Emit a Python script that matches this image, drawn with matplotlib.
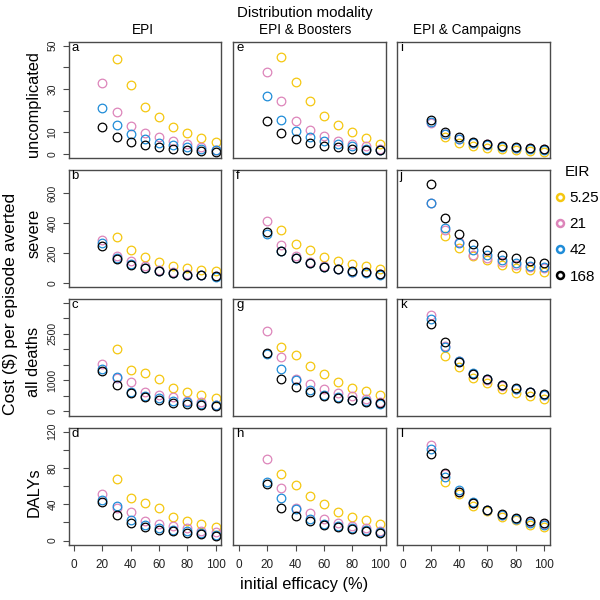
import numpy as np
import matplotlib
matplotlib.use("Agg")
import matplotlib.pyplot as plt
from matplotlib.lines import Line2D

plt.rcParams['font.family'] = ['Liberation Sans', 'DejaVu Sans']

nan = np.nan

efficacy = [20, 30, 40, 50, 60, 70, 80, 90, 100]
eir_labels = ['5.25', '21', '42', '168']
eir_colors = ['#F5C710', '#DD85BA', '#1F8CD8', '#000000']
modalities = ['EPI', 'EPI & Boosters', 'EPI & Campaigns']
outcomes = ['uncomplicated', 'severe', 'all deaths', 'DALYs']
letters = [['a', 'e', 'i'], ['b', 'f', 'j'], ['c', 'g', 'k'], ['d', 'h', 'l']]

# cost per episode averted, one row per EIR (5.25, 21, 42, 168)
unc_epi = [[nan, 43.8, 31.8, 21.6, 17.0, 12.5, 9.6, 7.4, 5.6],
           [32.7, 19.6, 13.1, 9.7, 7.7, 6.0, 4.5, 3.5, 2.0],
           [21.5, 13.4, 9.3, 7.1, 5.3, 4.2, 3.1, 2.3, 1.7],
           [12.7, 7.9, 5.4, 4.2, 3.1, 2.5, 1.9, 1.6, 1.2]]
unc_boost = [[nan, 44.6, 33.3, 24.7, 17.6, 13.4, 10.2, 7.4, 4.8],
             [37.7, 24.3, 15.1, 11.1, 8.5, 6.3, 4.8, 3.7, 2.2],
             [26.6, 15.7, 10.8, 8.1, 6.2, 4.5, 3.9, 2.6, 2.0],
             [15.5, 9.6, 6.8, 5.3, 4.0, 3.1, 2.5, 2.0, 1.7]]
unc_camp = [[nan, 7.7, 5.3, 3.9, 3.0, 2.3, 1.7, 1.6, 1.1],
            [14.3, 9.5, 7.1, 5.3, 4.5, 3.6, 3.0, 2.8, 2.3],
            [15.0, 9.3, 6.9, 5.1, 4.2, 3.4, 2.8, 2.5, 2.0],
            [15.7, 10.4, 7.7, 5.7, 4.6, 3.9, 3.2, 3.0, 2.5]]

sev_epi = [[nan, 309, 220, 171, 142, 113, 102, 87, 77],
           [289, 177, 149, 111, 87, 71, 60, 53, 47],
           [267, 169, 124, 102, 80, 67, 55, 49, 40],
           [247, 162, 120, 97, 80, 67, 55, 49, 42]]
sev_boost = [[nan, 351, 257, 217, 175, 147, 124, 111, 95],
             [411, 253, 180, 140, 111, 91, 75, 69, 57],
             [324, 213, 164, 129, 107, 93, 75, 67, 55],
             [342, 213, 164, 131, 107, 95, 77, 69, 60]]
sev_camp = [[nan, 313, 233, 177, 151, 120, 102, 87, 75],
            [537, 355, 275, 189, 167, 137, 120, 107, 97],
            [537, 367, 269, 222, 184, 155, 133, 115, 107],
            [660, 431, 329, 257, 222, 189, 164, 149, 131]]

death_epi = [[nan, 2005, 1340, 1221, 1051, 761, 611, 537, 431],
             [1523, 1073, 932, 623, 537, 463, 344, 302, 215],
             [1372, 1115, 623, 504, 431, 344, 289, 247, 206],
             [1285, 848, 578, 450, 353, 280, 225, 206, 183]]
death_boost = [[nan, 2056, 1799, 1468, 1189, 944, 752, 643, 537],
               [2603, 1735, 1051, 890, 707, 601, 504, 408, 302],
               [1854, 1372, 996, 697, 537, 450, 376, 321, 247],
               [1864, 1051, 794, 623, 504, 418, 353, 311, 257]]
death_camp = [[nan, 1767, 1414, 1060, 900, 707, 591, 504, 408],
              [3107, 2111, 1607, 1201, 1008, 826, 707, 611, 515],
              [2978, 2069, 1629, 1233, 1028, 836, 718, 623, 537],
              [2816, 2230, 1575, 1211, 1028, 848, 740, 633, 569]]

daly_epi = [[nan, 67.3, 46.4, 41.1, 35.6, 25.8, 21.1, 18.4, 14.7],
            [51.6, 36.0, 31.3, 21.5, 18.2, 16.4, 13.5, 10.5, 9.5],
            [44.7, 38.2, 22.2, 17.5, 14.2, 12.0, 10.2, 8.4, 6.2],
            [42.2, 28.4, 19.6, 14.9, 12.0, 10.2, 8.4, 7.3, 5.5]]
daly_boost = [[nan, 73.1, 60.8, 49.1, 40.7, 32.0, 25.5, 22.9, 17.8],
              [90.2, 58.2, 35.6, 29.8, 24.0, 19.3, 16.4, 13.9, 10.2],
              [64.7, 46.6, 34.9, 24.0, 18.2, 15.6, 13.8, 11.2, 9.5],
              [61.8, 35.6, 26.9, 21.1, 17.5, 14.5, 12.4, 10.6, 8.7]]
daly_camp = [[nan, 64.7, 50.9, 38.5, 32.7, 26.2, 22.1, 17.5, 15.0],
             [105.8, 72.8, 53.1, 41.1, 33.8, 28.5, 24.0, 20.0, 17.8],
             [101.1, 70.2, 56.0, 42.9, 33.8, 28.0, 23.6, 19.6, 17.5],
             [95.7, 74.5, 53.8, 41.5, 33.8, 29.1, 24.7, 21.1, 18.9]]

panels = [[unc_epi, unc_boost, unc_camp],
          [sev_epi, sev_boost, sev_camp],
          [death_epi, death_boost, death_camp],
          [daly_epi, daly_boost, daly_camp]]

# axis setup per row
ylims = [(-1.85, 51.85), (-25, 755), (-138, 3620), (-4.7, 123.7)]
yticks = [[0, 10, 20, 30, 40, 50],
          [0, 200, 400, 600],
          [0, 500, 1000, 1500, 2000, 2500, 3000, 3500],
          [0, 20, 40, 60, 80, 100, 120]]
yticklabels = [['0', '10', '', '30', '', '50'],
               ['0', '200', '400', '600'],
               ['0', '', '1000', '', '', '2500', '', ''],
               ['0', '', '40', '', '80', '', '120']]
xticks = [0, 20, 40, 60, 80, 100]

W = H = 600.0
col_left = [68.5, 233.3, 397.0]
row_top = [41.7, 170.0, 299.0, 428.3]
pw, ph = 152.7, 116.5

frame_col = '#4a4a4a'

fig = plt.figure(figsize=(6, 6), dpi=100)

for r in range(4):
    for c in range(3):
        ax = fig.add_axes([col_left[c] / W, 1 - (row_top[r] + ph) / H, pw / W, ph / H])
        series = panels[r][c]
        for k in range(4):
            ax.plot(efficacy, series[k], linestyle='none', marker='o',
                    markersize=6.2, markerfacecolor='none',
                    markeredgecolor=eir_colors[k], markeredgewidth=0.9)
        ax.set_xlim(-4, 104)
        ax.set_ylim(*ylims[r])
        for s in ax.spines.values():
            s.set_color(frame_col)
            s.set_linewidth(1.0)
        ax.tick_params(colors=frame_col, length=4.5, width=0.8, labelcolor='#222222')
        ax.set_xticks(xticks)
        if r == 3:
            ax.set_xticklabels([str(v) for v in xticks], fontsize=8.5)
            ax.tick_params(axis='x', pad=6)
        else:
            ax.tick_params(axis='x', bottom=False, labelbottom=False)
        ax.set_yticks(yticks[r])
        if c == 0:
            ax.set_yticklabels(yticklabels[r], fontsize=7.5, rotation=90, va='center')
            ax.tick_params(axis='y', pad=3.5)
        else:
            ax.tick_params(axis='y', left=False, labelleft=False)
        ax.text(0.018, 1 - 9.0 / ph, letters[r][c], transform=ax.transAxes,
                ha='left', va='baseline', fontsize=9.5)

# column titles
fig.text(305 / W, 1 - 17.5 / H, 'Distribution modality', ha='center', va='baseline', fontsize=10.8)
title_x = [142.5, 305, 466.7]
for c in range(3):
    fig.text(title_x[c] / W, 1 - 34.3 / H, modalities[c], ha='center', va='baseline', fontsize=9.8)

# row labels
row_y = [104, 233, 362, 492]
for r in range(4):
    fig.text(34 / W, 1 - row_y[r] / H, outcomes[r], rotation=90, ha='center', va='center', fontsize=11.8)
fig.text(11 / W, 1 - 304 / H, 'Cost ($) per episode averted', rotation=90,
         ha='center', va='center', fontsize=12.6)

fig.text(304 / W, 1 - 589 / H, 'initial efficacy (%)', ha='center', va='baseline', fontsize=11.8)

# legend
handles = [Line2D([], [], linestyle='none', marker='o', markersize=5,
                  markerfacecolor='none', markeredgecolor=col, markeredgewidth=1.8)
           for col in eir_colors]
fig.legend(handles, eir_labels, title='EIR', loc='upper left',
           bbox_to_anchor=(545 / W, 1 - 154 / H), frameon=False,
           fontsize=11, title_fontsize=11, handlelength=0.6,
           handletextpad=0.3, labelspacing=0.8, borderpad=0.2)

fig.savefig('out.png', dpi=100)
